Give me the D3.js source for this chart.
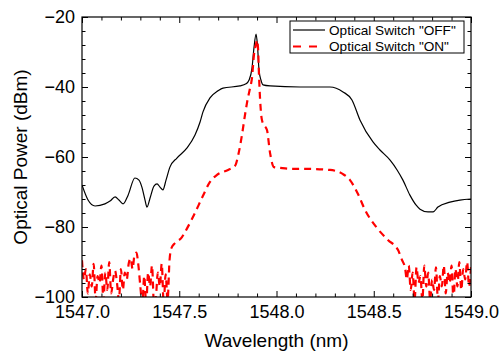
<!DOCTYPE html>
<html><head><meta charset="utf-8">
<script src="https://cdn.jsdelivr.net/npm/d3@7"></script>
<style>body{margin:0;background:#fff} svg{display:block} text{font-family:"Liberation Sans",Arial,sans-serif;fill:#000}</style>
</head><body><svg id="c" width="500" height="353"></svg>
<script>
// ---- data ----
const offWavelength = [1547.000,1547.031,1547.067,1547.118,1547.144,1547.170,1547.190,1547.211,1547.237,1547.272,1547.293,1547.308,1547.324,1547.334,1547.350,1547.370,1547.386,1547.401,1547.416,1547.432,1547.452,1547.488,1547.540,1547.581,1547.607,1547.622,1547.658,1547.699,1547.725,1547.812,1547.843,1547.859,1547.874,1547.884,1547.895,1547.902,1547.910,1547.920,1547.931,1547.967,1548.121,1548.275,1548.342,1548.388,1548.429,1548.496,1548.532,1548.584,1548.620,1548.650,1548.686,1548.717,1548.738,1548.779,1548.805,1548.830,1548.892,1548.943,1549.000];
const offPower = [-68.0,-72.3,-74.0,-73.4,-72.6,-71.4,-72.3,-73.4,-70.9,-66.0,-66.6,-68.6,-72.3,-74.3,-71.7,-68.3,-67.7,-68.6,-69.4,-66.6,-62.9,-60.3,-57.4,-53.7,-50.0,-47.1,-43.1,-41.1,-40.3,-39.7,-39.1,-38.0,-34.6,-28.9,-24.9,-28.0,-35.1,-38.0,-39.4,-39.7,-40.0,-40.0,-41.4,-43.7,-49.4,-55.7,-58.0,-60.9,-63.7,-66.6,-70.9,-73.7,-74.9,-75.7,-75.7,-74.3,-72.9,-72.3,-72.0];

const onWavelength = [
  1547.00,1547.01,1547.02,1547.03,1547.04,1547.05,1547.06,1547.07,1547.08,1547.09,
  1547.10,1547.11,1547.12,1547.13,1547.14,1547.15,1547.16,1547.17,1547.18,1547.19,
  1547.20,1547.21,1547.22,1547.23,1547.24,1547.25,1547.26,1547.27,1547.28,1547.29,
  1547.30,1547.31,1547.32,1547.33,1547.34,1547.35,1547.36,1547.37,1547.38,1547.39,
  1547.40,1547.41,1547.42,1547.43,1547.44,1547.45,1547.46,
  1547.478,1547.514,1547.530,1547.571,1547.622,1547.658,1547.694,1547.751,1547.787,1547.805,
  1547.823,1547.838,1547.848,1547.864,1547.874,1547.884,1547.895,1547.900,1547.905,1547.910,
  1547.915,1547.925,1547.936,1547.951,1547.967,1547.987,1548.018,1548.085,1548.147,1548.275,
  1548.342,1548.378,1548.419,1548.455,1548.517,1548.573,1548.625,1548.645,1548.661,
  1548.67,1548.68,1548.69,1548.70,1548.71,1548.72,1548.73,1548.74,1548.75,1548.76,
  1548.77,1548.78,1548.79,1548.80,1548.81,1548.82,1548.83,1548.84,1548.85,1548.86,
  1548.87,1548.88,1548.89,1548.90,1548.91,1548.92,1548.93,1548.94,1548.95,1548.96,
  1548.97,1548.98,1548.99,1549.00];
const onPower = [
  -89.5,-95,-92,-99,-93.5,-97,-90.5,-101,-94,-96,
  -91,-101,-93,-98,-90,-99,-95,-92.5,-96,-101,
  -92,-98,-93,-95,-90.5,-89,-92,-88,-87.3,-91,
  -97,-102,-94,-102,-93,-97,-91,-102,-100,-93,
  -97,-90.5,-102,-93.5,-101,-89.5,-86,
  -84.6,-82.9,-81.4,-77.1,-71.1,-67.1,-65.1,-63.7,-62.5,-59.0,
  -53.5,-48.0,-44.6,-40.3,-37.4,-30.9,-27.7,-26.6,-28.9,-36.6,
  -42.9,-49.4,-50.9,-52.3,-58.9,-62.9,-63.1,-63.4,-63.4,-63.7,
  -64.9,-66.6,-70.6,-75.1,-80.3,-83.7,-86.6,-89.4,-91.7,
  -95,-91,-98,-93,-101,-91.5,-96,-94,-101,-91,
  -97,-93,-101,-95,-98,-91.5,-101,-94,-97,-91,
  -99,-93,-96,-91,-101,-92,-97,-90,-98,-92,
  -95,-90,-97,-91.5];

const xTicks = [1547.0, 1547.5, 1548.0, 1548.5, 1549.0];
const xMinorTicks = [1547.1,1547.2,1547.3,1547.4,1547.6,1547.7,1547.8,1547.9,1548.1,1548.2,1548.3,1548.4,1548.6,1548.7,1548.8,1548.9];
const yTicks = [-100, -80, -60, -40, -20];
const yMinorTicks = [-96,-92,-88,-84,-76,-72,-68,-64,-56,-52,-48,-44,-36,-32,-28,-24];
const seriesNames = ['Optical Switch "OFF"', 'Optical Switch "ON"'];
const xTitle = "Wavelength (nm)";
const yTitle = "Optical Power (dBm)";

// ---- layout ----
const L = 82, R = 471, T = 17, B = 297;
const svg = d3.select("#c");
const x = d3.scaleLinear().domain([1547, 1549]).range([L, R]);
const y = d3.scaleLinear().domain([-100, -20]).range([B, T]);

svg.append("defs").append("clipPath").attr("id", "clip")
  .append("rect").attr("x", L).attr("y", T).attr("width", R - L).attr("height", B - T);

const offData = d3.zip(offWavelength, offPower);
const onData = d3.zip(onWavelength, onPower);
const line = d3.line().x(d => x(d[0])).y(d => y(d[1])).curve(d3.curveMonotoneX);

const g = svg.append("g").attr("clip-path", "url(#clip)");
g.append("path").datum(offData).attr("d", line)
  .attr("fill", "none").attr("stroke", "#000").attr("stroke-width", 1.2);
g.append("path").datum(onData).attr("d", line)
  .attr("fill", "none").attr("stroke", "#ff0000").attr("stroke-width", 2.2)
  .attr("stroke-dasharray", "7,5");

// ---- axes ----
function styleAxis(sel) {
  sel.select(".domain").remove();
  sel.selectAll("line").attr("stroke", "#000").attr("stroke-width", 1);
  sel.selectAll("text").style("font-family", '"Liberation Sans", Arial, sans-serif').style("font-size", "18px").attr("fill", "#000");
}
const fmt = d3.format(".1f");
svg.append("g").attr("transform", `translate(0,${B})`)
  .call(d3.axisBottom(x).tickValues(xTicks).tickFormat(fmt).tickSizeInner(-6).tickSizeOuter(0).tickPadding(8))
  .call(styleAxis);
svg.append("g").attr("transform", `translate(0,${B})`)
  .call(d3.axisBottom(x).tickValues(xMinorTicks).tickFormat("").tickSizeInner(-3.5).tickSizeOuter(0))
  .call(styleAxis);
svg.append("g").attr("transform", `translate(0,${T})`)
  .call(d3.axisTop(x).tickValues(xTicks).tickFormat("").tickSizeInner(-6).tickSizeOuter(0))
  .call(styleAxis);
svg.append("g").attr("transform", `translate(0,${T})`)
  .call(d3.axisTop(x).tickValues(xMinorTicks).tickFormat("").tickSizeInner(-3.5).tickSizeOuter(0))
  .call(styleAxis);
svg.append("g").attr("transform", `translate(${L},0)`)
  .call(d3.axisLeft(y).tickValues(yTicks).tickFormat(d3.format("d")).tickSizeInner(-6).tickSizeOuter(0).tickPadding(7))
  .call(styleAxis);
svg.append("g").attr("transform", `translate(${L},0)`)
  .call(d3.axisLeft(y).tickValues(yMinorTicks).tickFormat("").tickSizeInner(-3.5).tickSizeOuter(0))
  .call(styleAxis);
svg.append("g").attr("transform", `translate(${R},0)`)
  .call(d3.axisRight(y).tickValues(yTicks).tickFormat("").tickSizeInner(-6).tickSizeOuter(0))
  .call(styleAxis);
svg.append("g").attr("transform", `translate(${R},0)`)
  .call(d3.axisRight(y).tickValues(yMinorTicks).tickFormat("").tickSizeInner(-3.5).tickSizeOuter(0))
  .call(styleAxis);

svg.append("rect").attr("x", L).attr("y", T).attr("width", R - L).attr("height", B - T)
  .attr("fill", "none").attr("stroke", "#000").attr("stroke-width", 1.2);

// ---- titles ----
svg.append("text").attr("x", (L + R) / 2).attr("y", 347).attr("text-anchor", "middle")
  .style("font-size", "19px").text(xTitle);
svg.append("text").attr("transform", `translate(27,${(T + B) / 2}) rotate(-90)`).attr("text-anchor", "middle")
  .style("font-size", "19px").text(yTitle);

// ---- legend ----
const lg = svg.append("g");
lg.append("rect").attr("x", 290).attr("y", 21).attr("width", 174).attr("height", 32)
  .attr("fill", "#fff").attr("stroke", "#000").attr("stroke-width", 1);
const rows = [
  {name: seriesNames[0], y: 30, stroke: "#000", w: 1.2, dash: null},
  {name: seriesNames[1], y: 46.5, stroke: "#ff0000", w: 2.2, dash: "8,8"}
];
rows.forEach(r => {
  lg.append("line").attr("x1", 293).attr("x2", 325).attr("y1", r.y).attr("y2", r.y)
    .attr("stroke", r.stroke).attr("stroke-width", r.w).attr("stroke-dasharray", r.dash);
  lg.append("text").attr("x", 329).attr("y", r.y).attr("dy", "0.36em")
    .style("font-size", "13.6px").text(r.name);
});
</script></body></html>
